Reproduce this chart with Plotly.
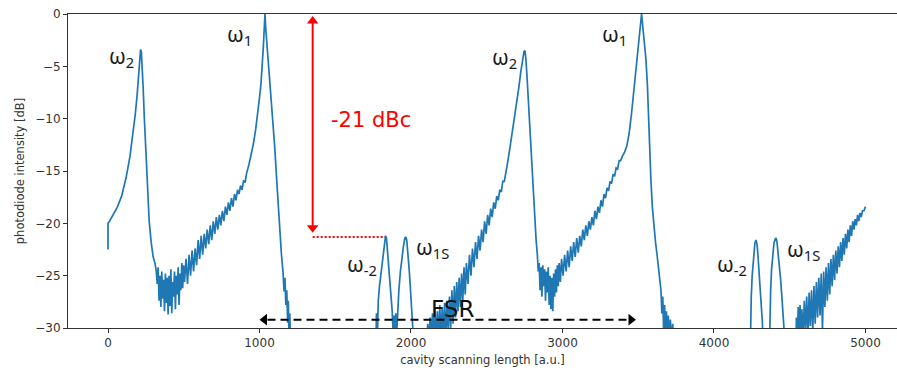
import plotly.graph_objects as go

# ---- trace data (x in a.u., y in dB); None = signal below the floor ----
seg1_x = [0, 0, 10, 30, 60, 90, 120, 145, 165, 180, 192, 202, 210, 215, 220, 226, 232, 240, 250, 260, 272, 285, 298, 310, 318,
          325, 331, 337, 343, 349, 355, 361, 367, 373, 379, 385, 391, 397, 403, 409, 415, 421, 427, 433, 439, 445, 451, 457, 463, 469, 475, 481, 487, 493, 499,
          505, 515, 525, 535, 545, 555, 565, 575, 585, 595, 605, 615, 625, 635, 645, 655, 665, 675, 685, 695, 705, 715, 725, 735, 745, 755, 765, 775, 785, 795,
          805, 815, 825, 835, 845, 855, 865, 875, 885, 895, 905, 915,
          930, 945, 960, 975, 990, 1000, 1010, 1018, 1026, 1032, 1036, 1042, 1055, 1070, 1085, 1100, 1115, 1130, 1145, 1155, 1162, 1168, 1174, 1180, 1186, 1190, 1195, 1200, 1206, 1212]
seg1_y = [-22.5, -20.0, -19.8, -19.3, -18.5, -17.4, -15.6, -13.6, -11.4, -9.6, -7.8, -5.8, -4.2, -3.4, -3.6, -5.0, -7.0, -10.0, -13.6, -16.8, -19.8, -21.8, -23.2, -23.8, -24.5,
          -25.8, -24.2, -27.4, -25.0, -28.0, -24.6, -27.2, -25.4, -28.4, -24.8, -27.6, -25.2, -28.7, -25.0, -27.9, -24.4, -28.6, -25.6, -27.0, -24.6, -28.2, -25.0, -26.8, -24.2, -27.8, -24.8, -26.4, -23.8, -26.2, -24.0,
          -25.6, -23.4, -25.8, -23.0, -25.0, -22.6, -24.6, -22.4, -24.0, -21.6, -23.4, -21.2, -23.0, -21.0, -22.4, -20.6, -22.0, -20.2, -21.6, -19.8, -21.0, -19.4, -20.6, -19.2, -20.2, -18.8, -19.8, -18.4, -19.2, -18.0,
          -18.8, -17.6, -18.4, -17.2, -17.8, -16.8, -17.2, -16.4, -16.8, -15.9, -16.1, -15.2,
          -14.4, -13.4, -12.4, -11.0, -9.4, -8.0, -6.6, -5.0, -3.0, -1.2, 0.0, -1.5, -4.0, -6.5, -9.5, -12.6, -16.2, -20.0, -23.0, -24.6, -26.5, -25.2, -27.8, -26.4, -29.5, -27.4, -31.0, -28.6, -32.0, -35.0]

seg2_x = [1765, 1772, 1778, 1784, 1792, 1800, 1808, 1816, 1824, 1832, 1838, 1844, 1852, 1860, 1868, 1876, 1882, 1888, 1894, 1900, 1906, 1912,
          1920, 1930, 1940, 1950, 1960, 1966, 1972, 1980, 1988, 1996, 2004, 2010, 2016, 2022]
seg2_y = [-35.0, -28.6, -31.0, -27.4, -26.0, -25.0, -24.0, -22.8, -21.8, -21.2, -21.4, -22.4, -24.0, -25.6, -27.2, -28.4, -30.5, -28.8, -31.0, -28.6, -30.4, -28.0,
          -26.4, -24.6, -23.2, -22.2, -21.4, -21.3, -21.6, -22.8, -24.4, -26.2, -28.0, -29.0, -31.0, -35.0]

seg3_x = [2100, 2110, 2118, 2126, 2134, 2142, 2150, 2158, 2166, 2174, 2182, 2190, 2198, 2206, 2214, 2222, 2230, 2238, 2246, 2254, 2262, 2270, 2278, 2286, 2294,
          2302, 2310, 2318, 2326, 2334, 2342, 2350, 2358, 2366, 2376, 2386, 2396, 2406, 2416, 2426, 2436, 2446, 2456, 2466, 2476, 2486, 2496, 2506, 2516, 2526,
          2536, 2546, 2556, 2566, 2576, 2586, 2596, 2606, 2616, 2626,
          2640, 2655, 2670, 2685, 2700, 2712, 2724, 2736, 2746, 2752, 2758, 2766, 2776, 2786, 2796, 2806, 2816, 2826, 2834,
          2840, 2846, 2852, 2858, 2864, 2870, 2876, 2882, 2888, 2894, 2900, 2906, 2912, 2918, 2924, 2930, 2936, 2942, 2948, 2954, 2960, 2966, 2972, 2978, 2986, 2994,
          3004, 3014, 3024, 3034, 3044, 3054, 3064, 3074, 3084, 3094, 3104, 3114, 3124, 3134, 3144, 3154, 3164, 3174, 3184, 3194, 3204, 3214, 3224, 3234, 3244,
          3254, 3264, 3274, 3284, 3294, 3304, 3314, 3324, 3334, 3344, 3354, 3364, 3374, 3384,
          3395, 3410, 3425, 3440, 3455, 3468, 3480, 3492, 3502, 3512, 3522, 3530, 3540, 3550, 3560, 3568, 3576, 3584, 3594, 3604, 3614, 3624, 3634, 3642, 3650,
          3656, 3662, 3668, 3674, 3680, 3686, 3692, 3698, 3704, 3712, 3720, 3728, 3736]
seg3_y = [-35.0, -29.6, -31.0, -29.0, -31.0, -28.6, -30.5, -28.2, -31.0, -28.4, -30.8, -27.8, -31.0, -28.0, -30.6, -27.6, -31.0, -27.4, -30.4, -27.0, -30.0, -26.4, -29.6, -26.0, -29.0,
          -25.6, -28.4, -25.2, -28.0, -24.8, -27.4, -24.2, -26.8, -23.8, -25.8, -23.0, -25.0, -22.4, -24.2, -21.8, -23.4, -21.2, -22.6, -20.6, -21.8, -19.8, -21.0, -19.2, -20.2, -18.6,
          -19.4, -18.0, -18.6, -17.4, -17.8, -16.8, -17.0, -16.0, -16.0, -15.0,
          -14.0, -12.6, -11.2, -9.8, -8.4, -7.0, -5.6, -4.4, -3.6, -3.5, -4.2, -6.0, -8.6, -11.4, -14.4, -17.2, -19.6, -21.6, -23.0,
          -24.6, -23.8, -26.4, -24.2, -27.0, -24.0, -26.0, -24.4, -27.4, -24.6, -26.6, -24.2, -27.8, -25.0, -28.2, -25.2, -28.4, -24.8, -27.0, -24.4, -26.6, -24.0, -26.0, -23.8, -25.6, -23.4,
          -25.0, -23.0, -24.6, -22.6, -24.2, -22.2, -23.6, -21.8, -23.2, -21.4, -22.8, -21.2, -22.2, -20.6, -21.6, -20.2, -21.2, -19.8, -20.6, -19.4, -20.2, -18.8, -19.6, -18.4, -19.0,
          -17.8, -18.4, -17.2, -17.6, -16.6, -16.9, -16.0, -16.2, -15.3, -15.5, -14.7, -14.8, -14.0, -14.0,
          -13.6, -13.2, -12.6, -11.4, -9.6, -7.8, -6.0, -4.4, -3.0, -1.4, 0.0, -1.2, -2.8, -4.2, -6.6, -10.0, -13.4, -16.0, -18.6, -20.4, -21.8, -23.0, -24.4, -25.6, -26.4,
          -28.6, -27.0, -30.5, -27.8, -31.0, -28.4, -31.0, -28.8, -31.0, -29.2, -31.0, -29.6, -35.0]

seg4_x = [4236, 4242, 4246, 4252, 4258, 4264, 4270, 4277, 4284, 4290, 4296, 4302, 4308, 4314, 4320, 4326]
seg4_y = [-35.0, -29.0, -27.0, -25.0, -23.6, -22.6, -21.9, -21.6, -22.0, -23.0, -24.2, -25.4, -26.8, -28.2, -29.6, -35.0]

seg5_x = [4362, 4368, 4374, 4380, 4388, 4396, 4404, 4410, 4416, 4424, 4432, 4440, 4448, 4456, 4462, 4468]
seg5_y = [-35.0, -29.4, -26.4, -24.4, -22.8, -21.9, -21.5, -21.4, -21.8, -22.8, -24.0, -25.4, -27.0, -28.6, -30.0, -35.0]

seg6_x = [4536, 4544, 4550, 4556, 4562, 4568, 4574, 4580, 4588, 4596, 4604, 4612, 4620, 4628, 4636, 4644, 4652, 4660, 4668, 4676, 4684, 4692, 4700, 4708,
          4716, 4724, 4732, 4740, 4748, 4756, 4764, 4772, 4780, 4788, 4796, 4804, 4812, 4820, 4828, 4836, 4844, 4852, 4860, 4868, 4876, 4884, 4892, 4900,
          4908, 4916, 4924, 4932, 4940, 4948, 4956, 4964, 4972, 4980, 4990, 5000]
seg6_y = [-35.0, -29.0, -31.0, -28.0, -31.0, -27.8, -30.6, -28.2, -31.0, -27.4, -30.2, -27.0, -31.0, -26.6, -29.8, -26.4, -30.4, -26.0, -29.6, -25.6, -29.0, -25.2, -28.8, -24.8,
          -30.2, -24.6, -28.0, -24.2, -27.4, -23.8, -26.8, -23.4, -26.0, -23.0, -25.4, -22.6, -24.8, -22.2, -24.2, -21.8, -23.6, -21.4, -23.0, -21.0, -22.4, -20.6, -21.8, -20.2,
          -21.2, -19.8, -20.6, -19.6, -20.2, -19.2, -19.8, -19.0, -19.4, -18.8, -18.8, -18.4]

segments_x = [seg1_x, seg2_x, seg3_x, seg4_x, seg5_x, seg6_x]
segments_y = [seg1_y, seg2_y, seg3_y, seg4_y, seg5_y, seg6_y]

x_ticks = [0, 1000, 2000, 3000, 4000, 5000]
y_ticks = [0, -5, -10, -15, -20, -25, -30]

# peak labels: (x, y, subscript)
peak_labels_x = [92, 871, 2620, 3346, 1677, 2145, 4119, 4588]
peak_labels_y = [-4.1, -2.0, -4.2, -2.0, -24.0, -22.4, -24.0, -22.5]
peak_labels_sub = ["2", "1", "2", "1", "-2", "1S", "-2", "1S"]

# markers of the -21 dBc measurement and the FSR span
dbc_x = 1351
dbc_top, dbc_bottom = -0.2, -20.9
dbc_level = -21.3
dbc_level_end = 1830
fsr_start, fsr_end, fsr_y = 1000, 3485, -29.2

XR = [-264, 5208]
YR = [-30, 0]
PLOT_W = 897 - 68
PLOT_H = 374 - 14 - 46
px_x = (XR[1] - XR[0]) / PLOT_W   # data units per pixel
px_y = (YR[1] - YR[0]) / PLOT_H

xs, ys = [], []
for sx, sy in zip(segments_x, segments_y):
    xs += sx + [None]
    ys += sy + [None]

fig = go.Figure()
fig.add_trace(go.Scatter(x=xs, y=ys, mode="lines", line=dict(color="#1f77b4", width=1.7),
                         connectgaps=False, showlegend=False, hoverinfo="skip"))

# red double arrow (shaft + heads)
head = 10
fig.add_shape(type="line", x0=dbc_x, x1=dbc_x, y0=dbc_top - 3 * px_y, y1=dbc_bottom + 3 * px_y,
              line=dict(color="red", width=2), xref="x", yref="y")
fig.add_trace(go.Scatter(x=[dbc_x, dbc_x], y=[dbc_top - head / 2 * px_y, dbc_bottom + head / 2 * px_y],
                         mode="markers", marker=dict(symbol=["triangle-up", "triangle-down"], size=head,
                                                     color="red", line=dict(width=0)),
                         showlegend=False, hoverinfo="skip", cliponaxis=False))
# red dotted level line
fig.add_shape(type="line", x0=dbc_x, x1=dbc_level_end, y0=dbc_level, y1=dbc_level,
              line=dict(color="red", width=2, dash="2px,2px"), xref="x", yref="y")
# FSR dashed double arrow
fig.add_shape(type="line", x0=fsr_start + 8 * px_x, x1=fsr_end - 8 * px_x, y0=fsr_y, y1=fsr_y,
              line=dict(color="black", width=2, dash="8px,5px"), xref="x", yref="y")
fig.add_trace(go.Scatter(x=[fsr_start + head / 2 * px_x, fsr_end - head / 2 * px_x], y=[fsr_y, fsr_y],
                         mode="markers", marker=dict(symbol=["triangle-left", "triangle-right"], size=head,
                                                     color="black", line=dict(width=0)),
                         showlegend=False, hoverinfo="skip", cliponaxis=False))

annotations = []
for lx, ly, sub in zip(peak_labels_x, peak_labels_y, peak_labels_sub):
    annotations.append(dict(x=lx, y=ly, xref="x", yref="y", text=f"ω<sub>{sub}</sub>", showarrow=False,
                            font=dict(family="Noto Sans", size=21, color="#1a1a1a")))
annotations.append(dict(x=1736, y=-10.1, xref="x", yref="y", text="-21 dBc", showarrow=False,
                        font=dict(family="DejaVu Sans", size=21, color="red")))
annotations.append(dict(x=2271, y=-28.2, xref="x", yref="y", text="FSR", showarrow=False,
                        font=dict(family="DejaVu Sans", size=23, color="#111111")))

fig.update_layout(
    width=897, height=374,
    margin=dict(l=68, r=0, t=14, b=46),
    paper_bgcolor="white", plot_bgcolor="white",
    font=dict(family="DejaVu Sans", size=12, color="#333333"),
    annotations=annotations,
    xaxis=dict(range=XR, tickvals=x_ticks, ticks="outside", ticklen=4, tickwidth=1,
               tickcolor="#333333", showline=True, linecolor="#333333", linewidth=1, mirror=True,
               showgrid=False, zeroline=False,
               title=dict(text="cavity scanning length [a.u.]", font=dict(size=11.5), standoff=6)),
    yaxis=dict(range=YR, tickvals=y_ticks, ticks="outside", ticklen=4, tickwidth=1,
               tickcolor="#333333", showline=True, linecolor="#333333", linewidth=1,
               showgrid=False, zeroline=False,
               title=dict(text="photodiode intensity [dB]", font=dict(size=11.5), standoff=8)),
)

fig.write_html("out.html")
